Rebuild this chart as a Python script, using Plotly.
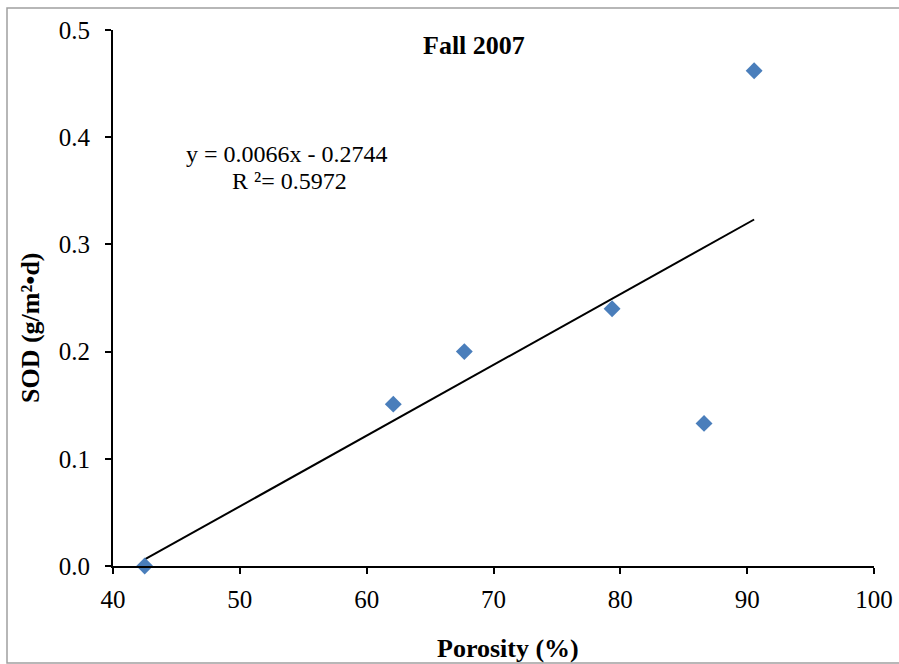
import plotly.graph_objects as go

# Sediment oxygen demand vs. porosity, Fall 2007
porosity = [42.5, 62.1, 67.7, 79.35, 86.6, 90.55]
sod = [0.0, 0.151, 0.2, 0.24, 0.133, 0.462]

# Linear trend reported on the chart
slope = 0.0066
intercept = -0.2744
r_squared = 0.5972

x_ticks = [40, 50, 60, 70, 80, 90, 100]
y_ticks = [0.0, 0.1, 0.2, 0.3, 0.4, 0.5]

W, H = 899, 664
L, R, T, B = 113, 25, 30, 98
pw, ph = W - L - R, H - T - B


def px_x(p):
    return (p - L) / pw


def px_y(p):
    return (H - B - p) / ph


serif = "Liberation Serif, Times New Roman, serif"

x_fit = [min(porosity), max(porosity)]
y_fit = [slope * v + intercept for v in x_fit]

fig = go.Figure()
fig.add_trace(go.Scatter(
    x=x_fit, y=y_fit, mode="lines",
    line=dict(color="black", width=2), showlegend=False, hoverinfo="skip",
))
fig.add_trace(go.Scatter(
    x=porosity, y=sod, mode="markers",
    marker=dict(symbol="diamond", size=13, color="#4a7ebb", line=dict(width=0)),
    showlegend=False, cliponaxis=False,
))

axis_common = dict(
    showgrid=False, zeroline=False, showline=True, linecolor="black", linewidth=2,
    ticks="outside", ticklen=6, tickwidth=2, tickcolor="black", automargin=False,
    tickfont=dict(family=serif, size=25, color="black"),
)

fig.update_layout(
    width=W, height=H,
    margin=dict(l=L, r=R, t=T, b=B, autoexpand=False),
    paper_bgcolor="white", plot_bgcolor="white",
    xaxis=dict(range=[40, 100], tickvals=x_ticks, ticktext=[str(v) for v in x_ticks],
               ticklabelstandoff=4, **axis_common),
    yaxis=dict(range=[0, 0.5], tickvals=y_ticks, ticktext=[f"{v:.1f}" for v in y_ticks],
               ticklabelstandoff=10, **axis_common),
    shapes=[dict(
        type="rect", xref="paper", yref="paper",
        x0=px_x(7), x1=px_x(910), y0=px_y(663), y1=px_y(8),
        line=dict(color="#a0a0a0", width=1.5), fillcolor="rgba(0,0,0,0)", layer="below",
    )],
    annotations=[
        dict(text="<b>Fall 2007</b>", xref="paper", yref="paper",
             x=px_x(474), y=px_y(45), xanchor="center", yanchor="middle", showarrow=False,
             font=dict(family=serif, size=26, color="black")),
        dict(text=f"y = {slope:.4f}x - {abs(intercept):.4f}", xref="paper", yref="paper",
             x=px_x(287), y=px_y(154), xanchor="center", yanchor="middle", showarrow=False,
             font=dict(family=serif, size=24, color="black")),
        dict(text=f"R ²= {r_squared:.4f}", xref="paper", yref="paper",
             x=px_x(289), y=px_y(181), xanchor="center", yanchor="middle", showarrow=False,
             font=dict(family=serif, size=24, color="black")),
        dict(text="<b>Porosity (%)</b>", xref="paper", yref="paper",
             x=px_x(508), y=px_y(648), xanchor="center", yanchor="middle", showarrow=False,
             font=dict(family=serif, size=26, color="black")),
        dict(text="<b>SOD (g/m²•d)</b>", xref="paper", yref="paper",
             x=px_x(30), y=px_y(328), xanchor="center", yanchor="middle", showarrow=False,
             textangle=-90, font=dict(family=serif, size=26, color="black")),
    ],
)

fig.write_html("out.html")
